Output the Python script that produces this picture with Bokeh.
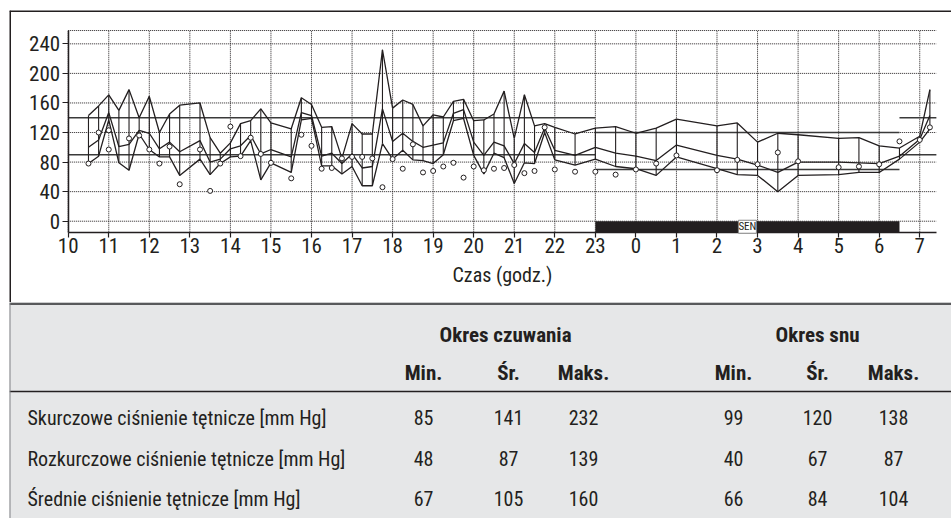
from bokeh.plotting import figure
from bokeh.models import Range1d, LinearAxis, FixedTicker, Label
from bokeh.layouts import column
from bokeh.embed import file_html
from bokeh.resources import INLINE
from bokeh.core.properties import value

FONT = "Roboto Condensed"
INK = "#231f20"
TABLE_BG = "#e6e7e8"

# ---------------- data ----------------
# measurement times in hours (next day = 24 + hour)
times = [10.5, 10.75, 11.0, 11.25, 11.5, 11.75, 12.0, 12.25, 12.5, 12.75,
         13.25, 13.5, 13.75, 14.0, 14.25, 14.5, 14.75, 15.0, 15.5, 15.75,
         16.0, 16.25, 16.5, 16.75, 17.0, 17.25, 17.5, 17.75, 18.0, 18.25,
         18.5, 18.75, 19.0, 19.25, 19.5, 19.75, 20.0, 20.25, 20.5, 20.75,
         21.0, 21.25, 21.5, 21.75, 22.0, 22.5, 23.0, 23.5, 24.0, 24.5,
         25.0, 26.0, 26.5, 27.0, 27.5, 28.0, 29.0, 29.5, 30.0, 30.5,
         31.0, 31.25]
systolic = [143, 156, 171, 150, 178, 140, 169, 120, 145, 157,
            160, 113, 92, 106, 132, 136, 152, 133, 125, 167,
            158, 127, 128, 85, 132, 118, 118, 232, 153, 164,
            158, 129, 144, 141, 162, 165, 136, 137, 145, 176,
            112, 171, 129, 132, 127, 118, 126, 128, 119, 126,
            138, 129, 133, 107, 119, 117, 112, 113, 102, 99,
            115, 178]
mean_bp = [100, 110, 147, 101, 104, 123, 119, 98, 107, 94,
           109, 80, 84, 98, 102, 116, 91, 97, 87, 147,
           143, 88, 92, 78, 91, 72, 74, 152, 108, 119,
           108, 100, 103, 106, 146, 151, 107, 89, 107, 102,
           78, 105, 93, 126, 96, 89, 100, 92, 88, 82,
           103, 89, 84, 76, 66, 80, 80, 79, 78, 88,
           111, 143]
diastolic = [78, 88, 137, 79, 69, 118, 97, 87, 87, 62,
             84, 63, 78, 87, 88, 109, 56, 79, 66, 137,
             139, 75, 75, 64, 74, 48, 48, 105, 84, 96,
             83, 82, 78, 90, 136, 139, 89, 64, 92, 86,
             51, 79, 78, 120, 83, 76, 84, 74, 71, 62,
             87, 71, 63, 62, 40, 62, 63, 66, 66, 84,
             107, 125]
pulse_times = [10.5, 10.75, 11.0, 11.0, 11.5, 11.75, 12.0, 12.25, 12.5, 12.75,
               13.25, 13.5, 13.75, 14.0, 14.25, 14.5, 14.75, 15.0, 15.5, 15.75,
               16.0, 16.25, 16.5, 16.75, 17.0, 17.25, 17.5, 17.75, 18.0, 18.25,
               18.5, 18.75, 19.0, 19.25, 19.5, 19.75, 20.0, 20.25, 20.5, 20.75,
               21.0, 21.25, 21.5, 21.75, 22.0, 22.5, 23.0, 23.5, 24.0, 24.5,
               25.0, 26.0, 26.5, 27.0, 27.5, 28.0, 29.0, 29.5, 30.0, 30.5,
               31.0, 31.25]
pulse = [78, 120, 123, 97, 112, 116, 97, 78, 101, 50,
         97, 41, 78, 128, 88, 113, 91, 79, 58, 117,
         102, 71, 72, 85, 87, 87, 85, 46, 84, 71,
         104, 66, 68, 74, 79, 59, 74, 69, 71, 72,
         76, 65, 68, 127, 70, 67, 67, 63, 70, 78,
         89, 69, 83, 77, 93, 81, 73, 74, 77, 108,
         110, 127]

# threshold periods: awake / sleep / awake
limit_start = [10, 23, 30.5]
limit_end = [23, 30.5, 31.41]
limit_sys = [140, 120, 140]
limit_dia = [90, 70, 90]

sleep_start, sleep_end = 23, 30.5
sleep_label = "SEN"

hour_ticks = list(range(10, 32))
hour_labels = {h: str(h % 24) for h in hour_ticks}
bp_ticks = [0, 40, 80, 120, 160, 200, 240]
x_title = "Czas (godz.)"

# table
period_headers = ["Okres czuwania", "Okres snu"]
col_headers = ["Min.", "Śr.", "Maks.", "Min.", "Śr.", "Maks."]
row_labels = ["Skurczowe ciśnienie tętnicze [mm Hg]",
              "Rozkurczowe ciśnienie tętnicze [mm Hg]",
              "Średnie ciśnienie tętnicze [mm Hg]"]
awake_min = [85, 48, 67]
awake_avg = [141, 87, 105]
awake_max = [232, 139, 160]
sleep_min = [99, 40, 66]
sleep_avg = [120, 67, 84]
sleep_max = [138, 87, 104]

# ---------------- chart ----------------
X_START, X_END = 10, 31.41
Y_START, Y_END = -15, 258
W = 951
XR = (8.5524, 31.783)
YR = (-110.0, 285.1)

p = figure(width=W, height=302,
           x_range=Range1d(*XR), y_range=Range1d(*YR),
           x_axis_type=None, y_axis_type=None,
           output_backend="svg", toolbar_location=None,
           min_border_left=9, min_border_right=0, min_border_top=10, min_border_bottom=0)
p.outline_line_color = None
p.background_fill_color = "white"
p.border_fill_color = "white"

# box border (top and left edges of the chart panel)
p.segment(x0=[XR[0], XR[0]], y0=[YR[1], YR[0]], x1=[XR[1], XR[0]], y1=[YR[1], YR[1]],
          line_color=INK, line_width=3)

# dotted grid
p.segment(x0=hour_ticks, y0=[Y_START] * len(hour_ticks), x1=hour_ticks, y1=[Y_END] * len(hour_ticks),
          line_color=INK, line_width=1, line_dash="1 1")
hlines = bp_ticks + [Y_END]
p.segment(x0=[X_START] * len(hlines), y0=hlines, x1=[X_END] * len(hlines), y1=hlines,
          line_color=INK, line_width=1, line_dash="1 1")

# sleep bar
p.quad(left=[sleep_start], right=[sleep_end], bottom=[Y_START], top=[0],
       fill_color=INK, line_color=None)

# threshold lines
p.segment(x0=limit_start, y0=limit_sys, x1=limit_end, y1=limit_sys, line_color="#3a3a3a", line_width=1.6)
p.segment(x0=limit_start, y0=limit_dia, x1=limit_end, y1=limit_dia, line_color="#3a3a3a", line_width=1.6)

# measurements
p.segment(x0=times, y0=diastolic, x1=times, y1=systolic, line_color=INK, line_width=1.1)
p.line(times, systolic, line_color=INK, line_width=1.3)
p.line(times, mean_bp, line_color=INK, line_width=1.3)
p.line(times, diastolic, line_color=INK, line_width=1.3)
p.scatter(pulse_times, pulse, marker="circle", size=5, fill_color="white",
          line_color=INK, line_width=1)

p.add_layout(Label(x=(sleep_start + sleep_end) / 2, y=(Y_START + 0) / 2, text=sleep_label,
                   text_align="center", text_baseline="middle", text_font=FONT,
                   text_font_size="11px", text_color=INK,
                   background_fill_color="white", border_line_color="#888888"))

yax = LinearAxis(fixed_location=X_START, bounds=(Y_START, Y_END),
                 ticker=FixedTicker(ticks=bp_ticks),
                 major_tick_in=0, major_tick_out=6, minor_tick_in=0, minor_tick_out=0,
                 axis_line_color=INK, axis_line_width=1.5, major_tick_line_color=INK,
                 major_tick_line_width=1.2,
                 major_label_text_font=FONT, major_label_text_font_size="21px",
                 major_label_text_color=INK, major_label_standoff=2)
p.add_layout(yax, "left")

xax = LinearAxis(fixed_location=Y_START, bounds=(X_START, X_END),
                 ticker=FixedTicker(ticks=hour_ticks),
                 major_label_overrides=hour_labels,
                 major_tick_in=0, major_tick_out=5, minor_tick_in=0, minor_tick_out=0,
                 axis_line_color=INK, axis_line_width=1.5, major_tick_line_color=INK,
                 major_tick_line_width=1.2,
                 major_label_text_font=FONT, major_label_text_font_size="21px",
                 major_label_text_color=INK, major_label_standoff=1,
                 axis_label=x_title, axis_label_text_font=FONT,
                 axis_label_text_font_size="20px", axis_label_text_font_style="normal",
                 axis_label_text_color=INK, axis_label_standoff=6)
p.add_layout(xax, "below")

# ---------------- table ----------------
TH = 216
TABLE_LEFT = 9
t = figure(width=W, height=TH, x_range=Range1d(TABLE_LEFT, W), y_range=Range1d(TH, 0),
           x_axis_type=None, y_axis_type=None, output_backend="svg", toolbar_location=None,
           min_border_left=TABLE_LEFT, min_border_right=0, min_border_top=0, min_border_bottom=0,
           background_fill_color=TABLE_BG, border_fill_color="white",
           outline_line_color=None)

COL_X = [423, 508, 583, 733, 817, 893]
PERIOD_X = [505, 817]
PERIOD_Y, HEADER_Y, RULE_Y = 32, 70, 89
ROW_Y = [115, 156, 196]
LABEL_X = 27

t.segment(x0=[TABLE_LEFT], y0=[1.2], x1=[W], y1=[1.2], line_color="#58595b", line_width=2.5)
t.segment(x0=[TABLE_LEFT], y0=[RULE_Y], x1=[W], y1=[RULE_Y], line_color=INK, line_width=1.3)
t.segment(x0=[TABLE_LEFT], y0=[0], x1=[TABLE_LEFT], y1=[TH], line_color="#808285", line_width=2)

bold = dict(text_font=value(FONT), text_font_size="21px", text_font_style="bold",
            text_color=INK, text_align="center", text_baseline="middle")
normal = dict(text_font=value(FONT), text_font_size="20px",
              text_color=INK, text_baseline="middle")

t.text(x=PERIOD_X, y=[PERIOD_Y] * 2, text=period_headers, **bold)
t.text(x=COL_X, y=[HEADER_Y] * len(COL_X), text=col_headers, **bold)
t.text(x=[LABEL_X] * len(row_labels), y=ROW_Y, text=row_labels, text_align="left", **normal)

columns = [awake_min, awake_avg, awake_max, sleep_min, sleep_avg, sleep_max]
vx, vy, vt = [], [], []
for cx, col in zip(COL_X, columns):
    for ry, v in zip(ROW_Y, col):
        vx.append(cx)
        vy.append(ry)
        vt.append(str(v))
t.text(x=vx, y=vy, text=vt, text_align="center", **normal)

layout = column(p, t, spacing=0)
open("out.html", "w").write(file_html(layout, INLINE))
